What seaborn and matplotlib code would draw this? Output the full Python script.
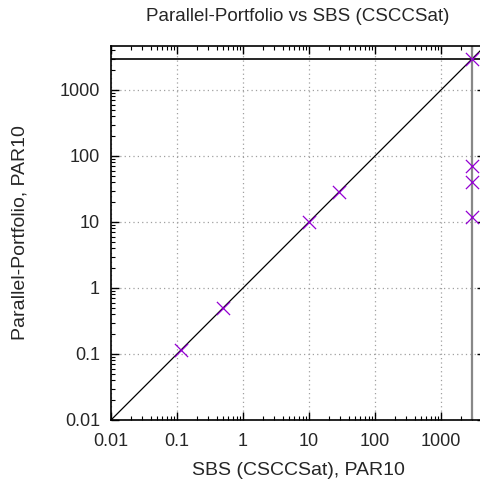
import numpy as np
import pandas as pd
import seaborn as sns
from matplotlib import pyplot as plt
from matplotlib.ticker import LogLocator, FixedFormatter, FixedLocator, NullFormatter

# values
sbs_par10 = [0.115, 0.5, 10, 28, 3000, 3000, 3000, 3000]
pp_par10 = [0.115, 0.5, 10, 28, 3000, 70, 40, 12]
timeout_par10 = 3000
axis_min, axis_max = 0.01, 4640
tick_values = [0.01, 0.1, 1, 10, 100, 1000]
tick_labels = ['0.01', '0.1', '1', '10', '100', '1000']

sns.set_style('ticks')
plt.rcParams['font.family'] = ['Liberation Sans', 'DejaVu Sans']
plt.rcParams['font.size'] = 13

df = pd.DataFrame({'sbs': sbs_par10, 'pp': pp_par10})

fig = plt.figure(figsize=(4.81, 4.83), dpi=100)
ax = fig.add_axes([111 / 481, 63 / 483, 374 / 481, 374 / 483])

ax.set_xscale('log')
ax.set_yscale('log')
ax.set_xlim(axis_min, axis_max)
ax.set_ylim(axis_min, axis_max)

ax.grid(True, which='major', color='#a0a0a0', linestyle=(0, (1, 2.5)), linewidth=0.9)

ax.axline((axis_min, axis_min), (1000, 1000), color='black', linewidth=0.9, zorder=2)
ax.axhline(timeout_par10, color='black', linewidth=1.2, zorder=2)
ax.axvline(timeout_par10, color='#888888', linewidth=1.6, zorder=2)

sns.scatterplot(data=df, x='sbs', y='pp', marker='x', color='#9400D3',
                s=90, linewidth=0.9, ax=ax, zorder=3, clip_on=False)

for axis in (ax.xaxis, ax.yaxis):
    axis.set_major_locator(FixedLocator(tick_values))
    axis.set_major_formatter(FixedFormatter(tick_labels))
    axis.set_minor_locator(LogLocator(base=10, subs=np.arange(2, 10), numticks=20))
    axis.set_minor_formatter(NullFormatter())

ax.tick_params(which='both', direction='in', top=True, right=True, color='black', labelsize=13)
ax.tick_params(axis='x', pad=9)
ax.tick_params(axis='y', pad=8)
ax.tick_params(which='major', length=6, width=1)
ax.tick_params(which='minor', length=3, width=0.8)
for s in ax.spines.values():
    s.set_linewidth(1.2)
    s.set_color('black')

ax.set_xlabel('SBS (CSCCSat), PAR10', fontsize=14, labelpad=9)
ax.set_ylabel('Parallel-Portfolio, PAR10', fontsize=14, labelpad=22)
ax.set_title('Parallel-Portfolio vs SBS (CSCCSat)', fontsize=13.5, pad=18)

plt.savefig('out.png', dpi=100)
plt.close()
